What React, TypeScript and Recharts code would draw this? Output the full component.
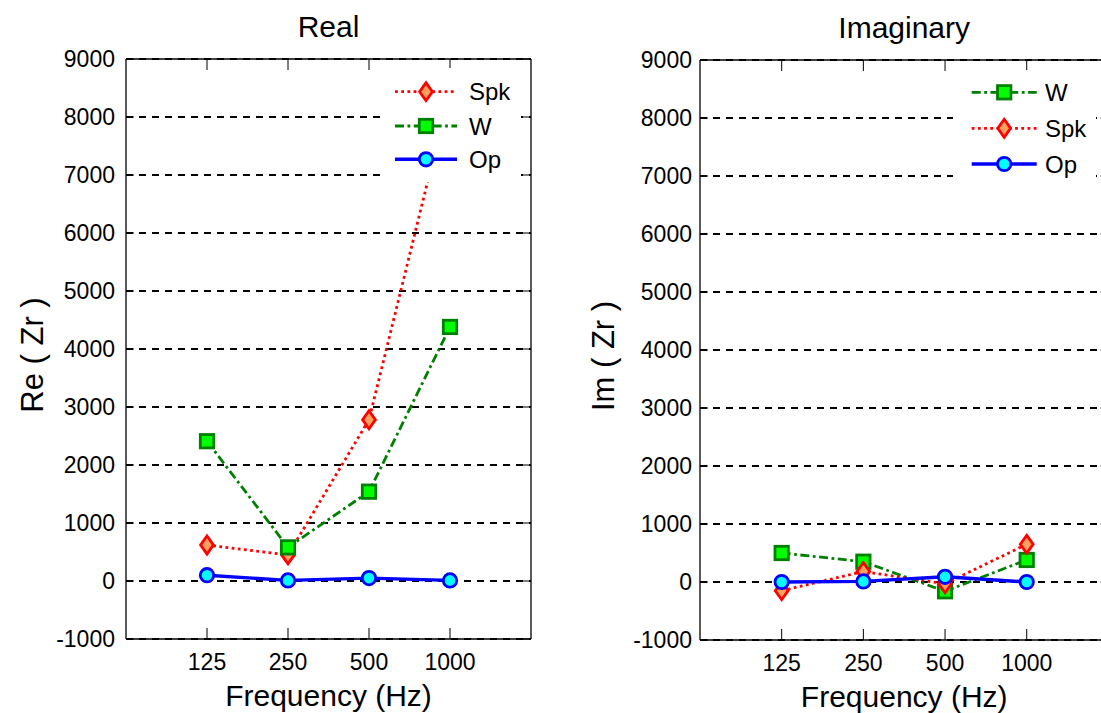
import React from 'react';
import { LineChart, Line, XAxis, YAxis, CartesianGrid, Legend } from 'recharts';

const FREQS = ['125', '250', '500', '1000'];
const X_POS = [1, 2, 3, 4];
const Y_TICKS = [-1000, 0, 1000, 2000, 3000, 4000, 5000, 6000, 7000, 8000, 9000];

// Real part
const RE_SPK = [620, 450, 2780, 8450];
const RE_W = [2410, 580, 1540, 4380];
const RE_OP = [100, 10, 50, 10];

// Imaginary part
const IM_W = [500, 350, -160, 380];
const IM_SPK = [-150, 180, -30, 650];
const IM_OP = [0, 10, 90, 0];

const REAL_ORDER = ['Spk', 'W', 'Op'];
const IMAG_ORDER = ['W', 'Spk', 'Op'];

const REAL_DATA = FREQS.map((f, i) => ({ x: X_POS[i], freq: f, Spk: RE_SPK[i], W: RE_W[i], Op: RE_OP[i] }));
const IMAG_DATA = FREQS.map((f, i) => ({ x: X_POS[i], freq: f, W: IM_W[i], Spk: IM_SPK[i], Op: IM_OP[i] }));

const FONT = '"Liberation Sans", Arial, Helvetica, sans-serif';

const STYLES: Record<string, any> = {
  Spk: { stroke: '#FF0000', width: 2.8, dash: '2.8 3.4', marker: 'diamond', fill: '#FFA060', edge: '#FF0000' },
  W: { stroke: '#008000', width: 2.8, dash: '9 3.5 2.8 3.5', marker: 'square', fill: '#00FF00', edge: '#008000' },
  Op: { stroke: '#0000FF', width: 3.4, dash: undefined, marker: 'circle', fill: '#00FFFF', edge: '#0000FF' },
};

function Marker({ name, cx, cy }: { name: string; cx: number; cy: number }) {
  const s = STYLES[name];
  const common = { fill: s.fill, stroke: s.edge, strokeWidth: 2.8, strokeDasharray: 'none' };
  if (s.marker === 'diamond') {
    return (
      <polygon
        points={`${cx},${cy - 9} ${cx + 6.4},${cy} ${cx},${cy + 9} ${cx - 6.4},${cy}`}
        {...common}
        strokeLinejoin="miter"
      />
    );
  }
  if (s.marker === 'square') {
    return <rect x={cx - 6.7} y={cy - 6.7} width={13.4} height={13.4} {...common} />;
  }
  return <circle cx={cx} cy={cy} r={6.7} {...common} />;
}

function makeDot(name: string) {
  return (props: any) => {
    const { cx, cy, index } = props;
    if (cx == null || cy == null) return <g key={`${name}-${index}`} />;
    return (
      <g key={`${name}-${index}`}>
        <Marker name={name} cx={cx} cy={cy} />
      </g>
    );
  };
}

function LegendBox({ order, width, height, rowY, lineX1, lineX2, textX }: any) {
  return (
    <svg width={width} height={height} style={{ display: 'block', fontFamily: FONT }}>
      <rect x={0} y={0} width={width} height={height} fill="#FFFFFF" />
      {order.map((name: string, i: number) => {
        const s = STYLES[name];
        const y = rowY[i];
        const mx = (lineX1 + lineX2) / 2;
        return (
          <g key={name}>
            <line
              x1={lineX1}
              x2={lineX2}
              y1={y}
              y2={y}
              stroke={s.stroke}
              strokeWidth={s.width}
              strokeDasharray={s.dash}
            />
            <Marker name={name} cx={mx} cy={y} />
            <text x={textX} y={y + 8.6} fontSize={24} fill="#000">
              {name}
            </text>
          </g>
        );
      })}
    </svg>
  );
}

function Panel(props: any) {
  const {
    data, order, title, yLabel, width, height, margin, yAxisWidth, xAxisHeight,
    yTickMargin, yLabelDx, legend,
  } = props;
  const renderTitle = (p: any) => {
    const vb = p.viewBox || {};
    return (
      <text x={vb.x + vb.width / 2} y={vb.y + vb.height - 22} textAnchor="middle" fontSize={30} fill="#000" fontFamily={FONT}>
        {title}
      </text>
    );
  };
  const renderXLabel = (p: any) => {
    const vb = p.viewBox || {};
    return (
      <text x={vb.x + vb.width / 2} y={vb.y + 67} textAnchor="middle" fontSize={30} fill="#000" fontFamily={FONT}>
        Frequency (Hz)
      </text>
    );
  };
  const renderYLabel = (p: any) => {
    const vb = p.viewBox || {};
    const x = vb.x + yLabelDx;
    const y = vb.y + vb.height / 2 + 6;
    return (
      <text
        x={x}
        y={y}
        textAnchor="middle"
        fontSize={31}
        fill="#000"
        fontFamily={FONT}
        transform={`rotate(-90, ${x}, ${y})`}
      >
        {yLabel}
      </text>
    );
  };
  const axisLine = { stroke: '#000', strokeWidth: 1.3 };
  const tickLine = { stroke: '#000', strokeWidth: 1 };
  return (
    <LineChart width={width} height={height} data={data} margin={margin} style={{ fontFamily: FONT }}>
      <CartesianGrid
        vertical={false}
        horizontal={true}
        stroke="#000000"
        strokeWidth={1.1}
        strokeDasharray="7 6"
        shapeRendering="crispEdges"
      />
      <XAxis
        dataKey="x"
        type="number"
        domain={[0, 5]}
        ticks={X_POS}
        tickFormatter={(v: number) => FREQS[v - 1] ?? ''}
        height={xAxisHeight}
        axisLine={axisLine}
        tickLine={tickLine}
        tickSize={-11}
        tickMargin={26}
        tick={{ fontSize: 23, fill: '#000', fontFamily: FONT }}
        interval={0}
        allowDataOverflow
        label={renderXLabel}
      />
      <XAxis
        xAxisId="top"
        orientation="top"
        dataKey="x"
        type="number"
        domain={[0, 5]}
        ticks={X_POS}
        tickFormatter={() => ''}
        height={1}
        axisLine={axisLine}
        tickLine={tickLine}
        tickSize={-11}
        interval={0}
        allowDataOverflow
        label={renderTitle}
      />
      <YAxis
        type="number"
        domain={[-1000, 9000]}
        ticks={Y_TICKS}
        width={yAxisWidth}
        axisLine={axisLine}
        tickLine={tickLine}
        tickSize={-8}
        tickMargin={yTickMargin}
        tick={{ fontSize: 23, fill: '#000', fontFamily: FONT }}
        interval={0}
        allowDataOverflow
        label={renderYLabel}
      />
      <YAxis
        yAxisId="right"
        orientation="right"
        type="number"
        domain={[-1000, 9000]}
        ticks={Y_TICKS}
        width={1}
        axisLine={axisLine}
        tickLine={tickLine}
        tickSize={-8}
        tickFormatter={() => ''}
        interval={0}
        allowDataOverflow
      />
      {order.map((name: string) => {
        const s = STYLES[name];
        return (
          <Line
            key={name}
            type="linear"
            dataKey={name}
            name={name}
            stroke={s.stroke}
            strokeWidth={s.width}
            strokeDasharray={s.dash}
            strokeLinecap="butt"
            dot={makeDot(name)}
            activeDot={false}
            isAnimationActive={false}
          />
        );
      })}
      <Legend
        layout="vertical"
        align="center"
        verticalAlign="middle"
        wrapperStyle={{
          left: legend.left,
          top: legend.top,
          width: legend.width,
          height: legend.height,
          margin: 0,
          padding: 0,
        }}
        content={() => (
          <LegendBox
            order={order}
            width={legend.width}
            height={legend.height}
            rowY={legend.rowY}
            lineX1={legend.lineX1}
            lineX2={legend.lineX2}
            textX={legend.textX}
          />
        )}
      />
    </LineChart>
  );
}

export default function App() {
  return (
    <div
      style={{
        position: 'absolute',
        left: 0,
        top: 0,
        width: 1101,
        height: 713,
        overflow: 'hidden',
        background: '#FFFFFF',
        fontFamily: FONT,
      }}
    >
      <div style={{ position: 'absolute', left: 0, top: 0 }}>
        <Panel
          data={REAL_DATA}
          order={REAL_ORDER}
          title="Real"
          yLabel="Re ( Zr )"
          width={575}
          height={713}
          margin={{ top: 58, right: 43, bottom: 0, left: 0 }}
          yAxisWidth={126}
          xAxisHeight={74}
          yTickMargin={19}
          yLabelDx={43}
          legend={{
            left: 383,
            top: 68,
            width: 138,
            height: 114,
            rowY: [23.7, 58, 91.3],
            lineX1: 12,
            lineX2: 74,
            textX: 86,
          }}
        />
      </div>
      <div style={{ position: 'absolute', left: 575, top: 0 }}>
        <Panel
          data={IMAG_DATA}
          order={IMAG_ORDER}
          title="Imaginary"
          yLabel="Im ( Zr )"
          width={540}
          height={713}
          margin={{ top: 59, right: 5.6, bottom: 0, left: 0 }}
          yAxisWidth={125}
          xAxisHeight={73}
          yTickMargin={16}
          yLabelDx={39}
          legend={{
            left: 378,
            top: 70,
            width: 143,
            height: 115,
            rowY: [22.3, 58.3, 94],
            lineX1: 18.7,
            lineX2: 83.7,
            textX: 92,
          }}
        />
      </div>
    </div>
  );
}
